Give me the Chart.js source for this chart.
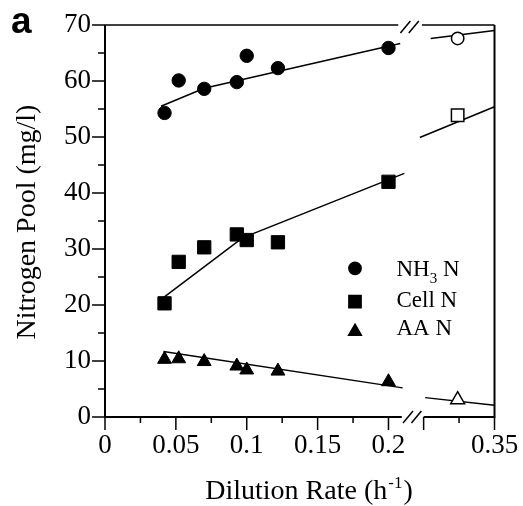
<!DOCTYPE html>
<html><head><meta charset="utf-8">
<script src="https://cdn.jsdelivr.net/npm/chart.js@4/dist/chart.umd.min.js"></script>
<style>html,body{margin:0;padding:0;background:#fff;}#wrap{width:523px;height:506px;position:relative;}</style>
</head><body><div id="wrap"><canvas id="c" width="523" height="506"></canvas></div>
<script>
// ---- data ----
const dilutionRate = [0.042, 0.052, 0.070, 0.093, 0.100, 0.122, 0.200];
const nh3N  = [54.3, 60.1, 58.6, 59.8, 64.5, 62.3, 65.9];
const cellN = [20.3, 27.7, 30.3, 32.6, 31.6, 31.2, 42.0];
const aaN   = [10.3, 10.4, 9.9, 9.1, 8.4, 8.2, 6.3];
const washoutRate = [0.324];
const nh3NOpen  = [67.6];
const cellNOpen = [53.9];
const aaNOpen   = [3.1];
// fitted curves (left and right of the axis break)
const nh3FitX   = [0.0395, 0.070, 0.2083];  const nh3FitY   = [55.5, 58.7, 66.7];
const nh3FitX2  = [0.305, 0.35];            const nh3FitY2  = [67.6, 69.0];
const cellFitX  = [0.0412, 0.097, 0.2112];  const cellFitY  = [21.3, 32.0, 43.5];
const cellFitX2 = [0.2973, 0.35];           const cellFitY2 = [49.9, 55.4];
const aaFitX    = [0.0412, 0.2100];         const aaFitY    = [11.7, 5.2];
const aaFitX2   = [0.3011, 0.35];           const aaFitY2   = [3.46, 2.09];
const xTickLabels = [0, 0.05, 0.1, 0.15, 0.2, 0.35];
const xMajorTicks = [0, 0.05, 0.1, 0.15, 0.2, 0.30, 0.35];
const xMinorTicks = [0.025, 0.075, 0.125, 0.175, 0.325];
const yTickLabels = [0, 10, 20, 30, 40, 50, 60, 70];
const yMinorTicks = [5, 15, 25, 35, 45, 55, 65];

// ---- broken x axis mapping ----
const BREAK_AT = 0.25, SHIFT = 0.0752;
const toPlot = r => r <= BREAK_AT ? r : r - SHIFT;
const fromPlot = p => p <= 0.2125 ? p : +(p + SHIFT).toFixed(3);
const pts = (xs, ys) => xs.map((x, i) => ({x: toPlot(x), y: ys[i]}));

const SERIF = "'Liberation Serif','Times New Roman',serif";
const filled = (data, style, r) => ({data, showLine:false, pointStyle:style, pointRadius:r, pointHoverRadius:r,
  pointBackgroundColor:'#000', pointBorderColor:'#000', pointBorderWidth:1});
const open = (data, style, r) => ({data, showLine:false, pointStyle:style, pointRadius:r, pointHoverRadius:r,
  pointBackgroundColor:'#fff', pointBorderColor:'#000', pointBorderWidth:1.5});
const fit = data => ({data, showLine:true, pointRadius:0, borderColor:'#000', borderWidth:1.5, tension:0, fill:false});

const datasets = [
  filled(pts(dilutionRate, nh3N), 'circle', 6.7),
  filled(pts(dilutionRate, cellN), 'rect', 9.4),
  filled(pts(dilutionRate, aaN), 'triangle', 8),
  open(pts(washoutRate, nh3NOpen), 'circle', 6.2),
  open(pts(washoutRate, cellNOpen), 'rect', 8.8),
  open(pts(washoutRate, aaNOpen), 'triangle', 8),
  fit(pts(nh3FitX, nh3FitY)), fit(pts(nh3FitX2, nh3FitY2)),
  fit(pts(cellFitX, cellFitY)), fit(pts(cellFitX2, cellFitY2)),
  fit(pts(aaFitX, aaFitY)), fit(pts(aaFitX2, aaFitY2)),
];

function seg(ctx, x1, y1, x2, y2, w){ctx.lineWidth=w;ctx.beginPath();ctx.moveTo(x1,y1);ctx.lineTo(x2,y2);ctx.stroke();}

const decor = {
  id:'decor',
  afterDraw(chart){
    const ctx = chart.ctx, xs = chart.scales.x, ys = chart.scales.y, ca = chart.chartArea;
    const X = r => xs.getPixelForValue(toPlot(r));
    const Y = v => ys.getPixelForValue(v);
    ctx.save(); ctx.strokeStyle='#000'; ctx.fillStyle='#000'; ctx.lineCap='butt';
    // frame
    seg(ctx, ca.left, ca.top, ca.left, ca.bottom+1, 2);
    seg(ctx, ca.right, ca.top, ca.right, ca.bottom+1, 2);
    seg(ctx, ca.left, ca.bottom, X(0.2094), ca.bottom, 2);
    seg(ctx, X(0.30), ca.bottom, ca.right, ca.bottom, 2);
    seg(ctx, ca.left, ca.top, X(0.2069), ca.top, 1.5);
    seg(ctx, X(0.2988), ca.top, ca.right, ca.top, 1.5);
    // x ticks
    xMajorTicks.forEach(t => seg(ctx, X(t), ca.bottom, X(t), ca.bottom+13, 1.5));
    xMinorTicks.forEach(t => seg(ctx, X(t), ca.bottom, X(t), ca.bottom+6, 1.5));
    // y ticks
    yTickLabels.forEach(t => seg(ctx, ca.left, Y(t), ca.left-13, Y(t), 1.5));
    yMinorTicks.forEach(t => seg(ctx, ca.left, Y(t), ca.left-7, Y(t), 1.5));
    // break marks
    const slashes = (mid, cy) => { [-4.2, 4.2].forEach(o => seg(ctx, mid+o-5, cy+6, mid+o+5, cy-6, 1.5)); };
    slashes((X(0.2094)+X(0.30))/2 - 0.5, ca.bottom);
    slashes((X(0.2069)+X(0.2988))/2 - 0.5, ca.top+2);
    // axis titles
    ctx.textBaseline='alphabetic';
    const t1 = 'Dilution Rate (h', sup = '-1', t2 = ')';
    ctx.font = `28px ${SERIF}`; const w1 = ctx.measureText(t1).width, w3 = ctx.measureText(t2).width;
    ctx.font = `17px ${SERIF}`; const w2 = ctx.measureText(sup).width;
    let x0 = 308 - (w1+w2+w3)/2, by = 499;
    ctx.textAlign='left';
    ctx.font = `28px ${SERIF}`; ctx.fillText(t1, x0, by);
    ctx.font = `17px ${SERIF}`; ctx.fillText(sup, x0+w1+1, by-11);
    ctx.font = `28px ${SERIF}`; ctx.fillText(t2, x0+w1+w2+2, by);
    ctx.save(); ctx.translate(35, (ca.top+ca.bottom)/2+1); ctx.rotate(-Math.PI/2);
    ctx.textAlign='center'; ctx.font = `28px ${SERIF}`; ctx.fillText('Nitrogen Pool (mg/l)', 0, 0); ctx.restore();
    // panel letter
    ctx.font = `bold 37px 'Liberation Sans',Arial,sans-serif`; ctx.textAlign='left';
    ctx.fillText('a', 11, 33);
    // legend
    const lx = 355;
    const rows = [[268.3, 0], [301.7, 1], [331.5, 2]];
    rows.forEach(([my, i]) => {
      const ds = chart.data.datasets[i];
      ctx.fillStyle='#000'; ctx.strokeStyle='#000';
      Chart.helpers.drawPoint(ctx, {pointStyle: ds.pointStyle, radius: ds.pointRadius*0.92, borderWidth: 1, rotation:0}, lx, my);
    });
    const tx = 396.5;
    ctx.fillStyle='#000'; ctx.textAlign='left';
    ctx.font = `23px ${SERIF}`;
    ctx.fillText('NH', tx, 276);
    const wNH = ctx.measureText('NH').width;
    ctx.font = `15px ${SERIF}`; ctx.fillText('3', tx+wNH, 283);
    const w3s = ctx.measureText('3').width;
    ctx.font = `23px ${SERIF}`; ctx.fillText(' N', tx+wNH+w3s, 276);
    ctx.fillText('Cell N', tx, 306.5);
    ctx.fillText('AA N', tx, 335);
    ctx.restore();
  }
};

new Chart(document.getElementById('c'), {
  type:'scatter',
  data:{datasets},
  options:{
    responsive:false, animation:false, devicePixelRatio:1,
    layout:{padding:{top:25, right:28.5, left:0, bottom:0}},
    plugins:{legend:{display:false}, tooltip:{enabled:false}},
    scales:{
      x:{type:'linear', min:0, max:toPlot(0.35),
        grid:{display:false, drawTicks:false}, border:{display:false},
        afterFit(s){s.height = 89; s.paddingLeft = 0; s.paddingRight = 0; s.paddingTop = 0; s.paddingBottom = 0;},
        afterBuildTicks(s){s.ticks = xTickLabels.map(v => ({value: toPlot(v)}));},
        ticks:{autoSkip:false, maxRotation:0, padding:13, color:'#000',
          font:{family:SERIF, size:27},
          callback:(v) => String(fromPlot(v))}},
      y:{type:'linear', min:0, max:70,
        grid:{display:false, drawTicks:false}, border:{display:false},
        afterFit(s){s.width = 105; s.paddingLeft = 0; s.paddingRight = 0; s.paddingTop = 0; s.paddingBottom = 0;},
        afterBuildTicks(s){s.ticks = yTickLabels.map(v => ({value:v}));},
        ticks:{padding:14, color:'#000', font:{family:SERIF, size:27}}}
    }
  },
  plugins:[decor]
});
</script></body></html>
